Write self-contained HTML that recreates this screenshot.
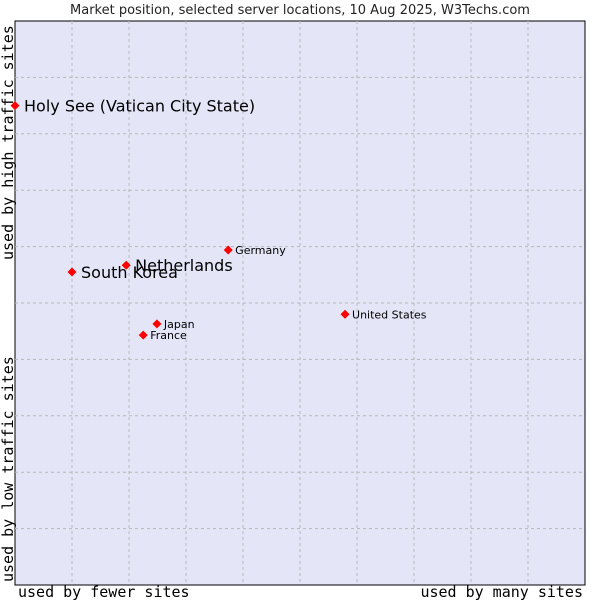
<!DOCTYPE html>
<html><head><meta charset="utf-8"><style>
body{margin:0;background:#fff;}
svg{display:block;}
</style></head><body>
<svg id="chart" width="600" height="600" xmlns="http://www.w3.org/2000/svg">
<text x="300" y="14" text-anchor="middle" font-family="DejaVu Sans, sans-serif" font-size="13" fill="#222">Market position, selected server locations, 10 Aug 2025, W3Techs.com</text>
<rect x="15" y="21" width="570" height="564" fill="#e4e6f8" stroke="#000" stroke-width="1"/>
<g id="grid"></g>
<g id="points"></g>
<text x="18" y="597" font-family="DejaVu Sans Mono, monospace" font-size="15" fill="#000">used by fewer sites</text>
<text x="583" y="597" text-anchor="end" font-family="DejaVu Sans Mono, monospace" font-size="15" fill="#000">used by many sites</text>
<text transform="translate(13,582) rotate(-90)" font-family="DejaVu Sans Mono, monospace" font-size="15" fill="#000">used by low traffic sites</text>
<text transform="translate(13,260) rotate(-90)" font-family="DejaVu Sans Mono, monospace" font-size="15" fill="#000">used by high traffic sites</text>
</svg>
<script>
const names = ["Holy See (Vatican City State)","South Korea","Netherlands","Germany","United States","Japan","France"];
const xVals = [0.0, 1.0, 1.95, 3.74, 5.79, 2.49, 2.25];
const yVals = [8.5, 5.55, 5.67, 5.94, 4.8, 4.63, 4.43];
const bigLabel = [true, true, true, false, false, false, false];
const L=15,T=21,W=570,H=564;
const sx=v=>L+v/10*W, sy=v=>T+H-v/10*H;
const NS="http://www.w3.org/2000/svg";
const grid=document.getElementById('grid');
for(let i=1;i<10;i++){
  const a=document.createElementNS(NS,'line');
  a.setAttribute('x1',sx(i));a.setAttribute('x2',sx(i));a.setAttribute('y1',T);a.setAttribute('y2',T+H);
  a.setAttribute('stroke','#b8b8b8');a.setAttribute('stroke-dasharray','3,3');
  
  
  grid.appendChild(a);
  const b=document.createElementNS(NS,'line');
  b.setAttribute('y1',sy(i));b.setAttribute('y2',sy(i));b.setAttribute('x1',L);b.setAttribute('x2',L+W);
  b.setAttribute('stroke','#b8b8b8');b.setAttribute('stroke-dasharray','3,3');
  
  
  grid.appendChild(b);
}
const pts=document.getElementById('points');
names.forEach((n,i)=>{
  const x=sx(xVals[i]),y=sy(yVals[i]);
  const d=document.createElementNS(NS,'polygon');
  d.setAttribute('points',`${x},${y-4.5} ${x+4.5},${y} ${x},${y+4.5} ${x-4.5},${y}`);
  d.setAttribute('fill','#f00');
  
  
  pts.appendChild(d);
  const t=document.createElementNS(NS,'text');
  const big=bigLabel[i];
  t.setAttribute('x',x+(big?9:7));t.setAttribute('y',y+(big?6:4));
  t.setAttribute('font-family','DejaVu Sans, sans-serif');
  t.setAttribute('font-size',big?16:11);
  t.setAttribute('fill','#000');
  t.textContent=n;
  
  
  pts.appendChild(t);
});
</script>
</body></html>
